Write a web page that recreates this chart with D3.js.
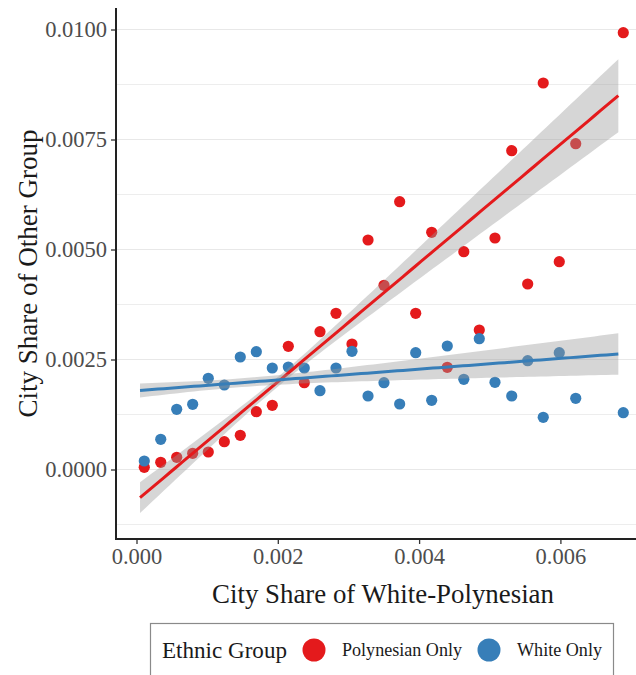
<!DOCTYPE html>
<html>
<head>
<meta charset="utf-8">
<script src="https://cdn.jsdelivr.net/npm/d3@7"></script>
<style>
  body { margin: 0; background: #ffffff; }
  svg { display: block; }
</style>
</head>
<body>
<svg id="chart" width="636" height="675"></svg>
<script>
// City share of the White-Polynesian group (x) for each binned city group
const xShare = [
  0.000110, 0.000343, 0.000569, 0.000795, 0.001016, 0.001243, 0.001469, 0.001696,
  0.001922, 0.002149, 0.002375, 0.002597, 0.002824, 0.003050, 0.003277, 0.003503,
  0.003725, 0.003952, 0.004178, 0.004399, 0.004633, 0.004852, 0.005074, 0.005311,
  0.005537, 0.005757, 0.005984, 0.006217, 0.006890
];
// City share of the Polynesian-only group at the same bins
const polynesianOnly = [
  0.000050, 0.000164, 0.000277, 0.000368, 0.000398, 0.000632, 0.000777, 0.001314,
  0.001459, 0.002800, 0.001973, 0.003132, 0.003550, 0.002852, 0.005216, 0.004186,
  0.006086, 0.003550, 0.005391, 0.002323, 0.004950, 0.003170, 0.005261, 0.007245,
  0.004216, 0.008784, 0.004723, 0.007405, 0.009927
];
// City share of the White-only group at the same bins
const whiteOnly = [
  0.000193, 0.000686, 0.001368, 0.001482, 0.002073, 0.001920, 0.002557, 0.002677,
  0.002307, 0.002330, 0.002307, 0.001791, 0.002307, 0.002686, 0.001670, 0.001973,
  0.001489, 0.002655, 0.001573, 0.002807, 0.002050, 0.002973, 0.001982, 0.001670,
  0.002473, 0.001186, 0.002655, 0.001618, 0.001291
];

// Linear fits (one per group, same order as groupNames) estimated on the
// underlying city-level data, with their 95% confidence bands:
// half-width(x) = sqrt(bandMin^2 + (bandSlope * (x - bandCenter))^2)
const fitRange     = [0.00005, 0.00682];
const fitIntercept = [-0.000707, 0.00179];
const fitSlope     = [1.3495, 0.1225];
const bandCenter   = [0.0020, 0.0015];
const bandMin      = [0.00011, 0.00010];
const bandSlope    = [0.1707, 0.0863];

const groupNames = ["Polynesian Only", "White Only"];
const groupColors = ["#E41A1C", "#377EB8"];

const xTicks = [0, 0.002, 0.004, 0.006];
const xTickLabels = ["0.000", "0.002", "0.004", "0.006"];
const yTicks = [0, 0.0025, 0.005, 0.0075, 0.01];
const yTickLabels = ["0.0000", "0.0025", "0.0050", "0.0075", "0.0100"];
const yMinorTicks = [-0.00125, 0.00125, 0.00375, 0.00625, 0.00875];

const xTitle = "City Share of White-Polynesian";
const yTitle = "City Share of Other Group";
const legendTitle = "Ethnic Group";

// ---- layout ----
const FONT = "'Liberation Serif', 'Times New Roman', serif";
const panel = { left: 116, right: 650, top: 8, bottom: 539 };

const x = d3.scaleLinear().domain([0, 0.006]).range([136.5, 560.4]);
const y = d3.scaleLinear().domain([0, 0.01]).range([469.5, 29.5]);

const svg = d3.select("#chart");

// fit a text element's font size so it spans the given width
function fitWidth(sel, target) {
  const w = sel.node().getComputedTextLength();
  const fs = parseFloat(sel.attr("font-size"));
  sel.attr("font-size", (fs * target / w).toFixed(2));
  return sel;
}

// ---- gridlines (horizontal only) ----
const grid = svg.append("g");
grid.selectAll("line.minor")
  .data(yMinorTicks)
  .join("line")
  .attr("class", "minor")
  .attr("x1", panel.left).attr("x2", panel.right)
  .attr("y1", d => y(d)).attr("y2", d => y(d))
  .attr("stroke", "#ededed").attr("stroke-width", 1);
grid.selectAll("line.major")
  .data(yTicks)
  .join("line")
  .attr("class", "major")
  .attr("x1", panel.left).attr("x2", panel.right)
  .attr("y1", d => y(d)).attr("y2", d => y(d))
  .attr("stroke", "#e8e8e8").attr("stroke-width", 1.2);

// ---- series ----
const series = [polynesianOnly, whiteOnly].map((vals, gi) => ({
  name: groupNames[gi],
  color: groupColors[gi],
  points: xShare.map((xv, i) => ({ x: xv, y: vals[i] }))
}));

// points
const pts = svg.append("g");
series.forEach(s => {
  pts.selectAll(null)
    .data(s.points)
    .join("circle")
    .attr("cx", d => x(d.x))
    .attr("cy", d => y(d.y))
    .attr("r", 5.6)
    .attr("fill", s.color);
});

// fitted line and confidence band for group gi
function fitBand(gi) {
  const [x0, x1] = fitRange;
  return d3.range(0, 81).map(k => {
    const xv = x0 + (x1 - x0) * k / 80;
    const yh = fitIntercept[gi] + fitSlope[gi] * xv;
    const hw = Math.sqrt(bandMin[gi] ** 2 + (bandSlope[gi] * (xv - bandCenter[gi])) ** 2);
    return { x: xv, y: yh, lo: yh - hw, hi: yh + hw };
  });
}

const area = d3.area().x(d => x(d.x)).y0(d => y(d.lo)).y1(d => y(d.hi));
const line = d3.line().x(d => x(d.x)).y(d => y(d.y));

const smooth = svg.append("g");
series.forEach((s, gi) => {
  const band = fitBand(gi);
  smooth.append("path")
    .attr("d", area(band))
    .attr("fill", "#999999")
    .attr("fill-opacity", 0.4);
  smooth.append("path")
    .attr("d", line(band))
    .attr("fill", "none")
    .attr("stroke", s.color)
    .attr("stroke-width", 3);
});

// ---- axes ----
const yAxis = d3.axisLeft(y)
  .tickValues(yTicks)
  .tickFormat((d, i) => yTickLabels[i])
  .tickSize(5)
  .tickPadding(4);
const gy = svg.append("g").attr("transform", `translate(${panel.left},0)`).call(yAxis);
gy.select(".domain").remove();
gy.selectAll(".tick line").attr("stroke", "#333").attr("stroke-width", 1.3);
gy.selectAll(".tick text")
  .attr("font-family", FONT).attr("font-size", 22.5)
  .attr("fill", "#4d4d4d");

const xAxis = d3.axisBottom(x)
  .tickValues(xTicks)
  .tickFormat((d, i) => xTickLabels[i])
  .tickSize(5)
  .tickPadding(4);
const gx = svg.append("g").attr("transform", `translate(0,${panel.bottom})`).call(xAxis);
gx.select(".domain").remove();
gx.selectAll(".tick line").attr("stroke", "#333").attr("stroke-width", 1.3);
gx.selectAll(".tick text")
  .attr("font-family", FONT).attr("font-size", 22.5)
  .attr("fill", "#4d4d4d");

// axis lines
svg.append("line")
  .attr("x1", panel.left).attr("x2", panel.left)
  .attr("y1", panel.top).attr("y2", panel.bottom + 1)
  .attr("stroke", "#222").attr("stroke-width", 2);
svg.append("line")
  .attr("x1", panel.left - 1).attr("x2", panel.right)
  .attr("y1", panel.bottom).attr("y2", panel.bottom)
  .attr("stroke", "#222").attr("stroke-width", 2);

// axis titles
const xt = svg.append("text")
  .attr("x", (panel.left + panel.right) / 2)
  .attr("y", 603)
  .attr("text-anchor", "middle")
  .attr("font-family", FONT).attr("font-size", 26)
  .attr("fill", "#1a1a1a")
  .text(xTitle);
fitWidth(xt, 342);

const yt = svg.append("text")
  .attr("transform", `translate(37,${(panel.top + panel.bottom) / 2}) rotate(-90)`)
  .attr("text-anchor", "middle")
  .attr("font-family", FONT).attr("font-size", 26)
  .attr("fill", "#1a1a1a")
  .text(yTitle);
fitWidth(yt, 288);

// ---- legend ----
const legend = svg.append("g");
legend.append("rect")
  .attr("x", 150.5).attr("y", 623.5)
  .attr("width", 463).attr("height", 80)
  .attr("fill", "#fff")
  .attr("stroke", "#8a8a8a").attr("stroke-width", 1.2);

const lt = legend.append("text")
  .attr("x", 162).attr("y", 658)
  .attr("font-family", FONT).attr("font-size", 23)
  .attr("fill", "#1a1a1a")
  .text(legendTitle);
fitWidth(lt, 125);

const keyX = [314, 489];
const labelX = [342, 517];
const labelW = [120, 85];
groupNames.forEach((name, i) => {
  legend.append("circle")
    .attr("cx", keyX[i]).attr("cy", 650)
    .attr("r", 11.5)
    .attr("fill", groupColors[i]);
  const t = legend.append("text")
    .attr("x", labelX[i]).attr("y", 656)
    .attr("font-family", FONT).attr("font-size", 17)
    .attr("fill", "#1a1a1a")
    .text(name);
  fitWidth(t, labelW[i]);
});
</script>
</body>
</html>
